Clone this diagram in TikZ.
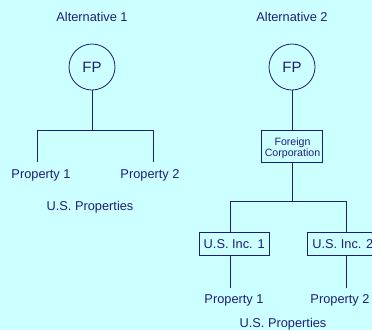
\documentclass[tikz,border=0pt]{standalone}
\usepackage{fontspec}
\setmainfont{Liberation Sans}
\definecolor{bg}{HTML}{CCFFFF}
\definecolor{ink}{HTML}{1E1E78}
\begin{document}
\begin{tikzpicture}[x=1pt,y=-1pt,
  lbl/.style={text=ink,font=\fontsize{12.8}{14}\selectfont,inner sep=0pt},
  fp/.style={circle,draw=ink,line width=0.8pt,minimum size=46pt,inner sep=0pt,text=ink,font=\fontsize{15}{17}\selectfont},
  box/.style={draw=ink,line width=0.8pt,text=ink,inner sep=0pt,align=center},
  conn/.style={draw=ink,line width=0.8pt}]
\fill[bg] (0,0) rectangle (372,330);
\useasboundingbox (0,0) rectangle (372,330);
% Alternative 1
\node[lbl] (t1) at (92,17) {Alternative 1};
\node[fp] (fp1) at (92,67) {FP};
\coordinate (j1) at (92,130);
\coordinate (l1) at (37,130);
\coordinate (r1) at (153,130);
\coordinate (l1e) at (37,162);
\coordinate (r1e) at (153,162);
\draw[conn] (fp1) -- (j1);
\draw[conn] (l1e) -- (l1) -- (r1) -- (r1e);
\node[lbl] (p11) at (41,175) {Property 1};
\node[lbl] (p12) at (150,175) {Property 2};
\node[lbl] (us1) at (90,207) {U.S. Properties};
% Alternative 2
\node[lbl] (t2) at (292,17) {Alternative 2};
\node[fp] (fp2) at (292,67) {FP};
\node[box,minimum width=61pt,minimum height=32.7pt] (fc) at (292,146.3) {};
\node[text=ink,inner sep=0pt,align=center,font=\fontsize{10.6}{11.6}\selectfont] (fct) at (292.5,148.3) {Foreign\\Corporation};
\draw[conn] (fp2) -- (fc);
\coordinate (j2) at (292,201);
\coordinate (l2) at (230.7,201);
\coordinate (r2) at (346.7,201);
\draw[conn] (fc) -- (j2);
\draw[conn] (l2) -- (r2);
\node[box,minimum width=70.3pt,minimum height=23.4pt,font=\fontsize{12.8}{14}\selectfont] (inc1) at (234.2,244) {U.S. Inc. 1};
\node[box,minimum width=70.3pt,minimum height=23.4pt,font=\fontsize{12.8}{14}\selectfont,anchor=west] (inc2) at (307.3,244) {U.S. Inc. 2};
\draw[conn] (l2) -- (l2 |- inc1.north);
\draw[conn] (r2) -- (r2 |- inc2.north);
\coordinate (p1e) at (230.7,288);
\coordinate (p2e) at (346.7,288);
\draw[conn] (l2 |- inc1.south) -- (p1e);
\draw[conn] (r2 |- inc2.south) -- (p2e);
\node[lbl] (p21) at (234,300) {Property 1};
\node[lbl] (p22) at (340,300) {Property 2};
\node[lbl] (us2) at (283,324) {U.S. Properties};
\end{tikzpicture}
\end{document}
